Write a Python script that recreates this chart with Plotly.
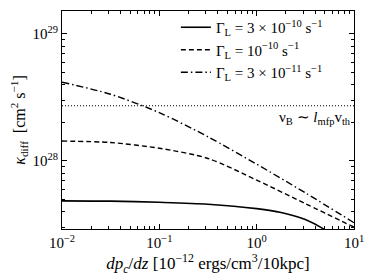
import math
import plotly.graph_objects as go

# ---- data ----
x_main = [0.01, 0.0316, 0.1, 0.316, 1.0, 3.16, 10.0]
x_solid = [0.01, 0.0316, 0.1, 0.316, 1.0, 1.78, 3.16, 5.01, 7.08]

kappa_3e10 = [4.86e27, 4.83e27, 4.73e27, 4.57e27, 4.22e27, 3.94e27, 3.47e27, 2.88e27, 2.34e27]
kappa_1e10 = [1.435e28, 1.397e28, 1.259e28, 1.047e28, 7.08e27, 4.62e27, 3.02e27]
kappa_3e11 = [4.17e28, 3.35e28, 2.40e28, 1.55e28, 9.44e27, 5.62e27, 3.27e27]

kappa_B = 2.72e28
x_B = [0.01, 10.0]

labels = [
    "Γ<sub>L</sub> = 3 × 10<sup>−10</sup> s<sup>−1</sup>",
    "Γ<sub>L</sub> = 10<sup>−10</sup> s<sup>−1</sup>",
    "Γ<sub>L</sub> = 3 × 10<sup>−11</sup> s<sup>−1</sup>",
]
bohm_label = "ν<sub>B</sub> ∼ <i>l</i><sub>mfp</sub>v<sub>th</sub>"

x_tickvals = [0.01, 0.1, 1, 10]
x_ticktext = ["10<sup>−2</sup>", "10<sup>−1</sup>", "10<sup>0</sup>", "10<sup>1</sup>"]
y_tickvals = [1e28, 1e29]
y_ticktext = ["10<sup>28</sup>", "10<sup>29</sup>"]

FONT = "Liberation Serif"

x_minor = [m * 10.0 ** e for e in (-2, -1, 0) for m in range(2, 10)]
y_minor = [m * 10.0 ** e for e in (27, 28) for m in range(2, 10)]

fig = go.Figure()
fig.add_trace(go.Scatter(x=x_solid, y=kappa_3e10, mode="lines", name=labels[0],
                         line=dict(color="black", width=1.6, shape="spline", smoothing=0.8)))
fig.add_trace(go.Scatter(x=x_main, y=kappa_1e10, mode="lines", name=labels[1],
                         line=dict(color="black", width=1.4, dash="5px,3px", shape="spline", smoothing=0.8)))
fig.add_trace(go.Scatter(x=x_main, y=kappa_3e11, mode="lines", name=labels[2],
                         line=dict(color="black", width=1.4, dash="7px,3px,1.5px,3px", shape="spline", smoothing=0.8)))
fig.add_trace(go.Scatter(x=x_B, y=[kappa_B, kappa_B], mode="lines", showlegend=False,
                         line=dict(color="black", width=1.2, dash="1px,2px")))

# annotation coordinates on a log axis are given as log10 values
fig.add_annotation(x=1, xref="paper", y=math.log10(kappa_B), yref="y", text=bohm_label,
                   xanchor="right", yanchor="top", showarrow=False, xshift=-1, yshift=-1,
                   font=dict(family=FONT, size=15, color="black"))

axis_common = dict(
    type="log", showline=True, linecolor="black", linewidth=1.2, mirror="allticks",
    ticks="inside", ticklen=5, tickwidth=1, tickcolor="black", showgrid=False, zeroline=False,
    automargin=False,
    tickfont=dict(family=FONT, size=15, color="black"),
)

fig.update_xaxes(**axis_common, range=[-2, 1], tickvals=x_tickvals, ticktext=x_ticktext,
                 minor=dict(ticks="inside", ticklen=2.5, tickwidth=0.8, tickcolor="black",
                            showgrid=False, tickmode="array", tickvals=x_minor),
                 title=dict(text="<i>dp<sub>c</sub></i>/<i>dz</i> [10<sup>−12</sup> ergs/cm<sup>3</sup>/10kpc]",
                            font=dict(family=FONT, size=17, color="black"), standoff=6))
fig.update_yaxes(**axis_common, range=[27.465, 29.18], tickvals=y_tickvals, ticktext=y_ticktext,
                 minor=dict(ticks="inside", ticklen=2.5, tickwidth=0.8, tickcolor="black",
                            showgrid=False, tickmode="array", tickvals=y_minor),
                 title=dict(text="<i>κ</i><sub>diff</sub>  [cm<sup>2</sup> s<sup>−1</sup>]",
                            font=dict(family=FONT, size=16, color="black"), standoff=4))

# the page body adds an 8px offset, so margins are reduced on the left/top to compensate
fig.update_layout(
    width=374, height=280,
    margin=dict(l=54, r=28, t=3, b=59, autoexpand=False),
    paper_bgcolor="white", plot_bgcolor="white",
    font=dict(family=FONT, color="black"),
    legend=dict(x=0.39, y=1.0, xanchor="left", yanchor="top", bgcolor="rgba(0,0,0,0)",
                font=dict(family=FONT, size=15, color="black"), tracegroupgap=0),
    showlegend=True,
)

fig.write_html("out.html")
